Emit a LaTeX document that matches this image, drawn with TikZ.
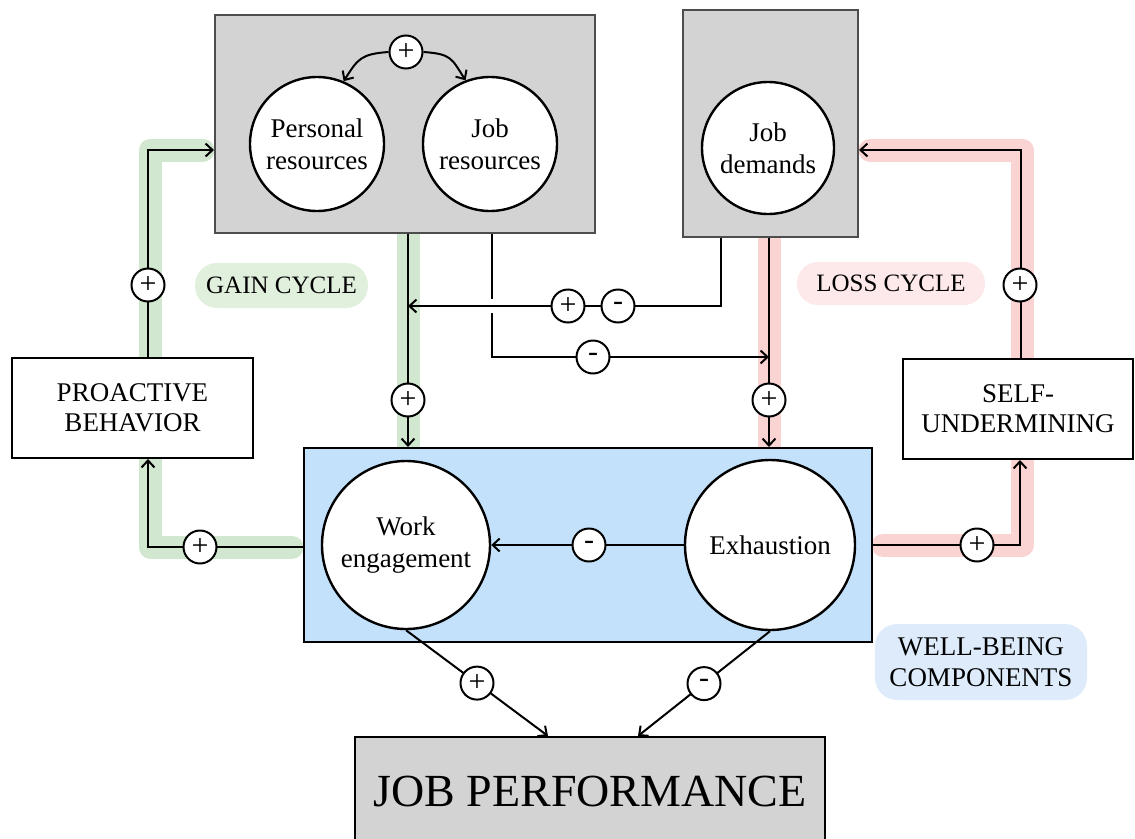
\documentclass[tikz,border=0pt]{standalone}
\usepackage{fontspec}
\setmainfont{Liberation Serif}
\usetikzlibrary{arrows.meta,calc}
\pgfdeclarelayer{bg}
\pgfsetlayers{bg,main}
\definecolor{boxgray}{HTML}{D3D3D3}
\definecolor{boxedge}{HTML}{4D4D4D}
\definecolor{wbblue}{HTML}{C3E1FB}
\definecolor{gainhl}{HTML}{D2E7CF}
\definecolor{losshl}{HTML}{FAD3D3}
\definecolor{gainpill}{HTML}{E1EFDD}
\definecolor{losspill}{HTML}{FDE9E9}
\definecolor{wbpill}{HTML}{DDEBFA}
\newcommand{\setfs}[2]{\fontsize{#1}{#2}\selectfont}
\begin{document}
\begin{tikzpicture}[x=1pt,y=-1pt,
  >={Straight Barb[length=7pt,width=13pt]},
  conn/.style={line width=2pt,->},
  plainline/.style={line width=2pt},
  gainband/.style={draw=gainhl,line width=23pt,line cap=round,line join=round},
  lossband/.style={draw=losshl,line width=23pt,line cap=round,line join=round},
  graybox/.style={rectangle,draw=boxedge,fill=boxgray,line width=2pt,inner sep=0pt},
  textbox/.style={rectangle,draw=black,fill=white,line width=2pt,inner sep=0pt,align=center,font={\setfs{27}{30}}},
  concept/.style={circle,draw=black,fill=white,line width=2.4pt,inner sep=0pt,align=center,font={\setfs{27}{32}}},
  sign/.style={circle,draw=black,fill=white,line width=2pt,minimum size=33pt,inner sep=0pt,font={\setfs{30}{30}}},
  pill/.style={rectangle,inner sep=0pt,align=center},
]
\useasboundingbox (0,0) rectangle (1135,838);

% ---- boxes and concepts
\node[graybox,minimum width=380pt,minimum height=218pt] (resbox) at (405,124) {};
\node[graybox,minimum width=175pt,minimum height=227pt] (dembox) at (770.5,123.5) {};
\node[concept,minimum size=134pt] (pr) at (317,144) {Personal\\resources};
\node[concept,minimum size=134pt] (jr) at (490,144) {Job\\resources};
\node[concept,minimum size=132pt] (jd) at (768,148) {Job\\demands};
\node[sign] (s0) at (406,52) {+};

\node[textbox,minimum width=241pt,minimum height=100pt] (pro) at (132.5,408) {PROACTIVE\\BEHAVIOR};
\node[textbox,minimum width=230pt,minimum height=100pt] (self) at (1018,409) {SELF-\\UNDERMINING};

\node[rectangle,draw=black,fill=wbblue,line width=2pt,minimum width=568pt,minimum height=194pt,inner sep=0pt] (wb) at (588,545) {};
\node[concept,minimum size=168pt] (we) at (406,545) {Work\\engagement};
\node[concept,minimum size=170pt] (ex) at (770,545) {Exhaustion};

\node[graybox,draw=black,minimum width=470pt,minimum height=108pt,font={\setfs{46}{46}}] (jp) at (590,791) {JOB PERFORMANCE};

% ---- labels
\node[pill,fill=gainpill,rounded corners=22pt,minimum width=173pt,minimum height=45pt,font={\setfs{25}{25}}] (gain) at (281.5,285.5) {GAIN CYCLE};
\node[pill,fill=losspill,rounded corners=21pt,minimum width=188pt,minimum height=43pt,font={\setfs{25}{25}}] (loss) at (891,283.5) {LOSS CYCLE};
\node[pill,fill=wbpill,rounded corners=22pt,minimum width=212pt,minimum height=76pt,font={\setfs{27}{31}}] (wbl) at (981,662) {WELL-BEING\\COMPONENTS};

% ---- routing points
\coordinate (gcorner) at (148,150);
\coordinate (gbot) at (148,547);
\coordinate (gv) at (408,0);
\coordinate (lv) at (769,0);
\coordinate (mv) at (492,357);
\coordinate (dj) at (721,306);
\coordinate (lbot) at (1020,545);
\coordinate (lcorner) at (1021,150);
\coordinate (jpl) at (548,0);
\coordinate (jpr) at (638,0);

% ---- cycle bands
\begin{pgfonlayer}{bg}
\draw[gainband] (292,547) -- (150,547) -- (150,150) -- (203,150);
\draw[gainband] (resbox.south -| gv) -- (wb.north -| gv);
\draw[lossband] (883,545) -- (1022,545) -- (1022,150) -- (870,150);
\draw[lossband] (dembox.south -| lv) -- (wb.north -| lv);
\end{pgfonlayer}

% ---- connectors
\draw[conn] (s0.west) .. controls ($(s0.west)+(-28,2)$) and ($(pr.67)+(14,-22)$) .. (pr.67);
\draw[conn] (s0.east) .. controls ($(s0.east)+(28,2)$) and ($(jr.111)+(-14,-22)$) .. (jr.111);
\draw[conn] (pro.north -| gcorner) -- (gcorner) -- (resbox.west |- gcorner);
\draw[conn] (wb.west |- gbot) -- (gbot) -- (pro.south -| gbot);
\draw[conn] (resbox.south -| gv) -- (wb.north -| gv);
\draw[conn] (dembox.south -| lv) -- (wb.north -| lv);
\draw[plainline] (resbox.south -| mv) -- ($(mv |- dj)+(0,-7)$);
\draw[conn] ($(mv |- dj)+(0,7)$) -- (mv) -- (mv -| lv);
\draw[conn] (dembox.south -| dj) -- (dj) -- (dj -| gv);
\draw[conn] (ex.west) -- (we.east);
\draw[conn] (wb.east |- lbot) -- (lbot) -- (self.south -| lbot);
\draw[conn] (self.north -| lcorner) -- (lcorner) -- (dembox.east |- lcorner);
\draw[conn] (we.south) -- (jp.north -| jpl);
\draw[conn] (ex.south) -- (jp.north -| jpr);

% ---- signs on the connectors
\node[sign] (s1) at (148,285) {+};
\node[sign] (s2) at (200,547) {+};
\node[sign] (s3) at (408,400) {+};
\node[sign] (s4) at (769,400) {+};
\node[sign] (s5) at (568,306) {+};
\node[sign] (s6) at (618,306) {-};
\node[sign] (s7) at (593,357) {-};
\node[sign] (s8) at (589,545) {-};
\node[sign] (s9) at (977,545) {+};
\node[sign] (s10) at (1020,285) {+};
\node[sign] (s11) at ($(we.south)!0.5!(jp.north -| jpl)$) {+};
\node[sign] (s12) at ($(ex.south)!0.5!(jp.north -| jpr)$) {-};
\end{tikzpicture}
\end{document}
